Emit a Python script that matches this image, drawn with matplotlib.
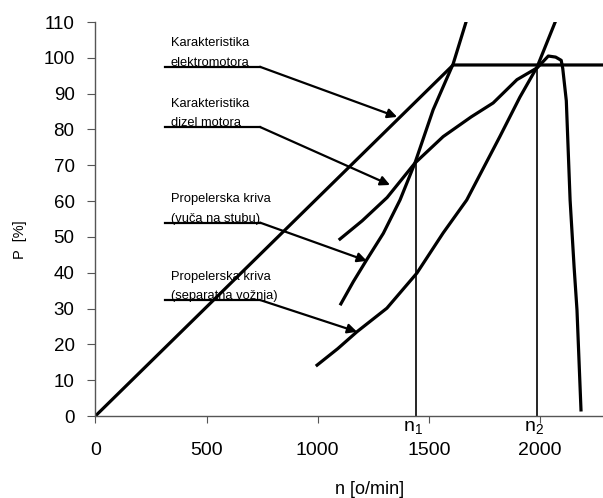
import matplotlib
matplotlib.use("Agg")
import matplotlib.pyplot as plt

plt.rcParams['font.family'] = ['Liberation Sans', 'DejaVu Sans']

# Characteristic of the electric motor
em_n = [0, 1609, 2290]
em_p = [0, 98, 98]

# Diesel engine characteristic
dz_n = [1100, 1200, 1312, 1437, 1564, 1690, 1789, 1896, 1987, 2037, 2070, 2095, 2102, 2118, 2135, 2153, 2166, 2184]
dz_p = [49.4, 54.5, 61, 70.6, 78, 83.5, 87.4, 93.9, 97.2, 100.5, 100.2, 99.3, 97, 88, 60.3, 41.6, 29.6, 1.7]

# Propeller curve (bollard pull)
pb_n = [1104, 1160, 1220, 1295, 1370, 1437, 1519, 1609, 1667]
pb_p = [31.3, 37.5, 43.6, 51, 60.3, 70.6, 85.5, 98.3, 110]

# Propeller curve (free running)
pf_n = [997, 1090, 1176, 1311, 1446, 1564, 1670, 1819, 1909, 1987, 2068]
pf_p = [14.2, 18.8, 23.5, 30.1, 39.9, 51.1, 60.3, 78, 89, 97.5, 110]

n1, n2 = 1442, 1987
n1_p, n2_p = 71, 97.5

x_ticks = [0, 500, 1000, 1500, 2000]
y_ticks = list(range(0, 111, 10))

# annotations: text, underline y, arrow tip (n, P)
ann_texts = ["Karakteristika\nelektromotora", "Karakteristika\ndizel motora",
             "Propelerska kriva\n(vuča na stubu)", "Propelerska kriva\n(separatna vožnja)"]
ann_y = [97.5, 80.7, 54, 32.4]
ann_tip_n = [1357, 1325, 1221, 1177]
ann_tip_p = [83.5, 64.5, 43.3, 23.5]
ann_x0, ann_x1 = 313, 740

fig = plt.figure(figsize=(6.03, 4.98), dpi=100)
ax = fig.add_axes([95.4 / 603, 82 / 498, 1 - 95.4 / 603, 394 / 498])
ax.set_xlim(0, 2283)
ax.set_ylim(0, 110)

lw = 2.3
ax.plot(em_n, em_p, color='black', lw=lw, solid_capstyle='butt')
ax.plot(dz_n, dz_p, color='black', lw=lw)
ax.plot(pb_n, pb_p, color='black', lw=lw)
ax.plot(pf_n, pf_p, color='black', lw=lw)

ax.plot([n1, n1], [0, n1_p], color='black', lw=1.2)
ax.plot([n2, n2], [0, n2_p], color='black', lw=1.2)

for t, y, tn, tp in zip(ann_texts, ann_y, ann_tip_n, ann_tip_p):
    ax.plot([ann_x0, ann_x1], [y, y], color='black', lw=1.6)
    ax.annotate('', xy=(tn, tp), xytext=(ann_x1, y),
                arrowprops=dict(arrowstyle='-|>', color='black', lw=1.6,
                                mutation_scale=14, shrinkA=0, shrinkB=0))
    ax.text(339, y + 0.3, t, fontsize=9.3, ha='left', va='baseline',
            linespacing=1.8)

for s in ['top', 'right']:
    ax.spines[s].set_visible(False)
for s in ['left', 'bottom']:
    ax.spines[s].set_color('#555555')
    ax.spines[s].set_linewidth(1.0)

ax.set_xticks(x_ticks)
ax.set_yticks(y_ticks)
ax.tick_params(axis='x', direction='out', length=5, pad=14, labelsize=14, color='#555555')
ax.tick_params(axis='y', direction='out', length=6, pad=9, labelsize=13.5, color='#555555')

ax.text(n1 - 15, -0.8, r'$\mathregular{n_1}$', fontsize=14, ha='center', va='top')
ax.text(n2 - 15, -0.8, r'$\mathregular{n_2}$', fontsize=14, ha='center', va='top')

fig.text(20 / 603, 1 - 240 / 498, 'P  [%]', rotation=90, fontsize=10.5, ha='center', va='center')
fig.text(370 / 603, 1 - 489 / 498, 'n [o/min]', fontsize=13, ha='center', va='center')

fig.savefig('out.png', dpi=100)
